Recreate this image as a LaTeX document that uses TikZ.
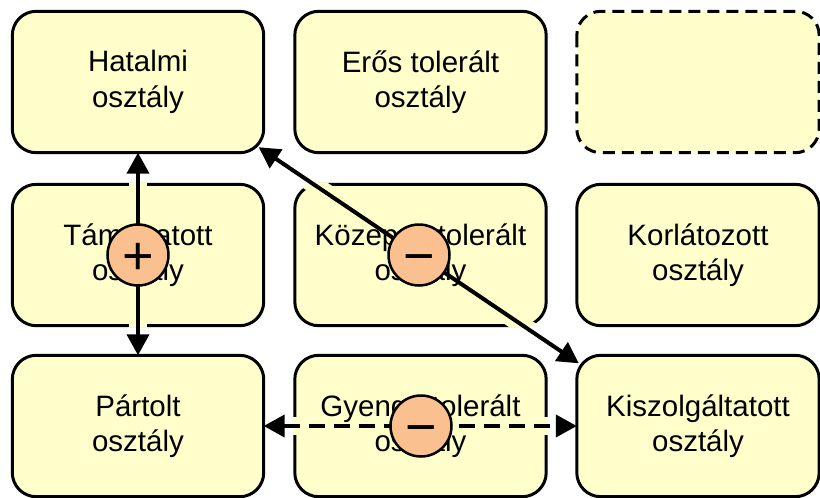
\documentclass[tikz,border=0pt]{standalone}
\usepackage{fontspec}
\setmainfont{Liberation Sans}
\usetikzlibrary{arrows.meta,calc}
\pgfdeclarelayer{bg}
\pgfsetlayers{bg,main}
\definecolor{boxfill}{HTML}{FFFFCC}
\definecolor{circfill}{HTML}{FAC090}
\begin{document}
\begin{tikzpicture}[x=1pt,y=-1pt,
  box/.style={minimum width=251pt, minimum height=141pt, inner sep=0pt, align=center,
    font=\fontsize{29.5}{35.5}\selectfont},
  boxline/.style={draw=black, line width=3pt, fill=boxfill, rounded corners=24pt},
  sign/.style={circle, draw=black, line width=2.5pt, fill=circfill, minimum size=61pt,
    inner sep=0pt, font=\fontsize{54}{54}\selectfont, text height=38.1pt, text depth=0pt},
  arr/.style={line width=4pt, {Triangle[length=21pt,width=22pt]}-{Triangle[length=21pt,width=22pt]}},
  halo/.style={line width=18pt, draw=boxfill}
]
\useasboundingbox (0,0) rectangle (820,498);

% boxes (text on main layer)
\node[box] (hat) at (138,82) {Hatalmi\\osztály};
\node[box] (ero) at (420.5,82) {Erős tolerált\\osztály};
\node[box, minimum width=242pt] (ures) at (698,82) {};
\node[box] (tam) at (138,255) {Támogatott\\osztály};
\node[box] (koz) at (420.5,255) {Közepes tolerált\\osztály};
\node[box, minimum width=242pt] (kor) at (698,255) {Korlátozott\\osztály};
\node[box] (par) at (138,426) {Pártolt\\osztály};
\node[box] (gye) at (420.5,426) {Gyenge tolerált\\osztály};
\node[box, minimum width=242pt] (kis) at (698,426) {Kiszolgáltatott\\osztály};

\coordinate (d1) at ($(hat.south east)+(-5,-5.5)$);
\coordinate (d2) at ($(kis.north west)+(2,8)$);

\begin{pgfonlayer}{bg}
  \foreach \n in {hat,ero,tam,koz,kor,par,gye,kis}
    \draw[boxline] (\n.north west) rectangle (\n.south east);
  \draw[boxline, dash pattern=on 12pt off 7pt] (ures.north west) rectangle (ures.south east);
  \begin{scope}
    \clip[rounded corners=26pt]
      ($(tam.north west)+(-2,-2)$) rectangle ($(tam.south east)+(2,2)$)
      ($(koz.north west)+(-2,-2)$) rectangle ($(koz.south east)+(2,2)$)
      ($(gye.north west)+(-2,-2)$) rectangle ($(gye.south east)+(2,2)$);
    \draw[halo] (hat.south) -- (par.north);
    \draw[halo] (d1) -- (d2);
    \draw[halo] (par.east) -- (kis.west);
  \end{scope}
\end{pgfonlayer}

% connectors
\draw[arr] (hat.south) -- (par.north);
\draw[arr] (d1) -- (d2);
\draw[arr, dash pattern=on 16pt off 9pt] (par.east) -- (kis.west);

% signs
\node[sign] (c1) at (138,255) {+};
\node[sign] (c2) at (419,255) {−};
\node[sign] (c3) at (421,426) {−};
\end{tikzpicture}
\end{document}
